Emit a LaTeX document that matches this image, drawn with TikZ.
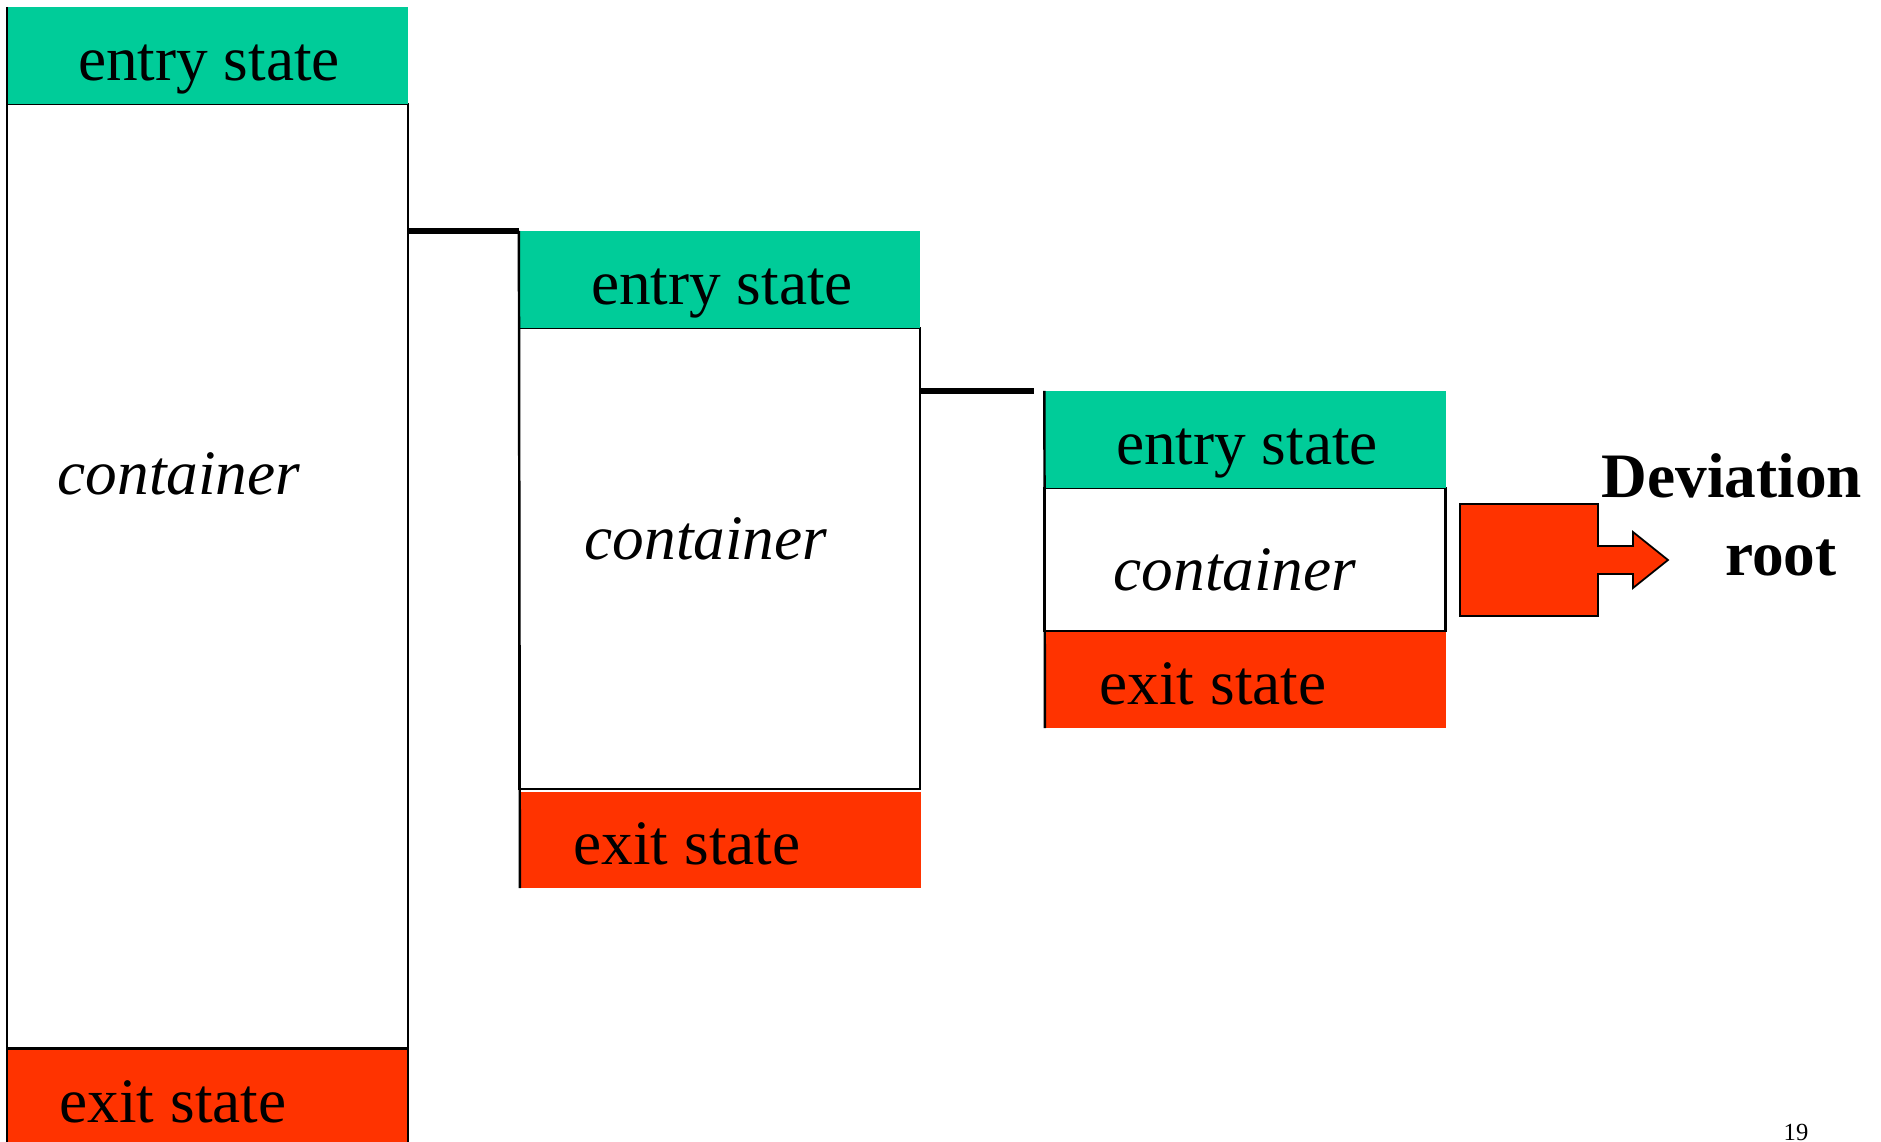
\documentclass[tikz,border=0pt]{standalone}
\usepackage{fontspec}
\setmainfont{Liberation Serif}
\begin{document}
\begin{tikzpicture}[x=0.01cm, y=-0.01cm,
		box/.style={rectangle, inner sep=0, outer sep=0, minimum width=4.01cm},
		entrybox/.style={box, fill=sgreen, minimum height=0.97cm},
		exitbox/.style={box, fill=sred, minimum height=0.96cm},
		contbox/.style={box, draw=black, line width=0.7pt, fill=white},
		frame/.style={draw=black, line width=0.7pt},
		link/.style={draw=black, line width=1.6pt},
		lbl/.style={anchor=base, inner sep=0, font=\fontsize{18pt}{21pt}\selectfont}]
		\definecolor{sgreen}{RGB}{0,204,153}
		\definecolor{sred}{RGB}{255,51,0}
		\useasboundingbox (0,0) rectangle (1881,1142);
		\node (k1) at (207.5,576) [contbox, minimum height=9.44cm] {};
		\node (e1) at (207.5,55.5) [entrybox] {};
		\node (x1) at (207.5,1100) [exitbox, minimum height=1cm] {};
		\node (k2) at (719.5,558.5) [contbox, minimum height=4.61cm] {};
		\node (e2) at (719.5,279.5) [entrybox] {};
		\node (x2) at (720.5,840) [exitbox] {};
		\node (k3) at (1245,559.5) [contbox, minimum height=1.43cm] {};
		\node (e3) at (1245,439.5) [entrybox] {};
		\node (x3) at (1245.5,680) [exitbox] {};
		\draw[frame] (e1.north west) -- (x1.south west);
		\draw[frame] (k1.south east) -- (x1.south east);
		\draw[frame] (e2.north west) -- (x2.south west);
		\draw[frame] (e3.north west) -- (x3.south west);
		\draw[link] (k1.east |- e2.north west) -- (e2.north west);
		\draw[link] (k2.east |- e3.north west) -- ([xshift=-0.1cm]e3.north west);
		\node (t1) at (209,80) [lbl] {entry state};
		\node (c1) at (179,494) [lbl] {\itshape container};
		\node (s1) at (173,1122) [lbl] {exit state};
		\node (t2) at (722,304) [lbl] {entry state};
		\node (c2) at (706,559) [lbl] {\itshape container};
		\node (s2) at (687,864) [lbl] {exit state};
		\node (t3) at (1247,464) [lbl] {entry state};
		\node (c3) at (1235,590) [lbl] {\itshape container};
		\node (s3) at (1213,704) [lbl] {exit state};
		\draw[fill=sred, draw=black, line width=0.5pt] (1460,504) -- (1598,504) -- (1598,546) -- (1633,546) -- (1633,532) -- (1668,560) -- (1633,588) -- (1633,574) -- (1598,574) -- (1598,616) -- (1460,616) -- cycle;
		\node (dev) at (1732,497) [lbl] {\bfseries Deviation};
		\node (root) at (1781,575) [lbl] {\bfseries root};
		\node (pg) at (1796,1140) [anchor=base, inner sep=0, font=\fontsize{7pt}{8pt}\selectfont] {19};
	\end{tikzpicture}
\end{document}
